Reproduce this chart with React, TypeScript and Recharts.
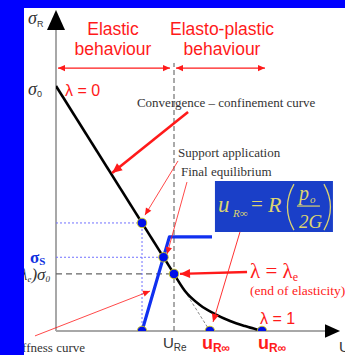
import {
  ComposedChart,
  Line,
  Scatter,
  XAxis,
  YAxis,
  ReferenceLine,
  ReferenceDot,
  ReferenceArea,
} from "recharts"

// u in units of U_Re, s = sigma_R / sigma_0
const elasticU = [0, 1]
const elasticS = [1, 0.233]
const plasticU = [1, 1.093, 1.22, 1.347, 1.475, 1.602, 1.746]
const plasticS = [0.233, 0.163, 0.106, 0.069, 0.041, 0.02, 0]
const stiffU = [0.729, 0.961, 1.322]
const stiffS = [0, 0.384, 0.384]
const pointU = [0.729, 0.911, 1, 0.729, 1.304, 1.746]
const pointS = [0.441, 0.301, 0.233, 0, 0, 0]

const phaseLabels = ["Elastic", "behaviour", "Elasto-plastic", "behaviour"]
const notes = [
  "Convergence – confinement curve",
  "Support application",
  "Final equilibrium",
  "Stiffness curve",
  "(end of elasticity)",
]

const toRows = (us: number[], ss: number[]) => us.map((u, i) => ({ u, s: ss[i] }))

const elastic = toRows(elasticU, elasticS)
const plastic = toRows(plasticU, plasticS)
const stiffness = toRows(stiffU, stiffS)
const points = toRows(pointU, pointS)

const RED = "#ff1a1a"
const SANS = "Liberation Sans, Arial, sans-serif"
const SERIF = "Liberation Serif, Times New Roman, serif"
const KHAKI = "#dcd470"

function arrow(color: string, width: number, head: number, both = false) {
  return (p: any) => {
    const { x1, y1, x2, y2 } = p
    const a = Math.atan2(y2 - y1, x2 - x1)
    const tip = (x: number, y: number, ang: number) => {
      const hx = x - head * Math.cos(ang)
      const hy = y - head * Math.sin(ang)
      const w = head * 0.45
      return `${x},${y} ${hx + w * Math.sin(ang)},${hy - w * Math.cos(ang)} ${hx - w * Math.sin(ang)},${hy + w * Math.cos(ang)}`
    }
    return (
      <g>
        <line x1={x1} y1={y1} x2={x2} y2={y2} stroke={color} strokeWidth={width} />
        <polygon points={tip(x2, y2, a)} fill={color} />
        {both && <polygon points={tip(x1, y1, a + Math.PI)} fill={color} />}
      </g>
    )
  }
}

function dashed(color: string, width: number, dash: string) {
  return (p: any) => (
    <line x1={p.x1} y1={p.y1} x2={p.x2} y2={p.y2} stroke={color} strokeWidth={width} strokeDasharray={dash} />
  )
}

function txt(render: (x: number, y: number) => any) {
  return (p: any) => <g>{render(p.cx, p.cy)}</g>
}

const dotShape = (p: any) => (
  <circle cx={p.cx} cy={p.cy} r={4.8} fill="#0010e8" stroke="#e8e000" strokeWidth={0.8} />
)

export default function App() {
  return (
    <div style={{ position: "absolute", left: 0, top: 0, width: 345, height: 355, background: "#fff", overflow: "hidden" }}>
      <ComposedChart
        width={345}
        height={355}
        margin={{ top: 12.5, right: 17.6, bottom: 24, left: 56 }}
      >
        <XAxis type="number" dataKey="u" domain={[0, 2.3]} allowDataOverflow hide />
        <YAxis type="number" dataKey="s" domain={[0, 1.3]} allowDataOverflow hide />

        {/* formula box */}
        <ReferenceArea x1={1.347} x2={2.347} y1={0.404} y2={0.612} ifOverflow="visible" fill="#1a3fc8" fillOpacity={1} stroke="none" />

        {/* axes */}
        <ReferenceLine segment={[{ x: 0, y: 0 }, { x: 0, y: 1.23 }]} ifOverflow="visible" shape={dashed("#a8a8a8", 2, "0")} />
        <ReferenceLine segment={[{ x: 0, y: 1.229 }, { x: 0, y: 1.31 }]} ifOverflow="visible" shape={arrow("#000", 0.1, 20)} />
        <ReferenceLine segment={[{ x: 0, y: 0 }, { x: 2.3, y: 0 }]} ifOverflow="visible" shape={dashed("#a8a8a8", 2, "0")} />
        <ReferenceLine segment={[{ x: 2.28, y: 0 }, { x: 2.407, y: 0 }]} ifOverflow="visible" shape={arrow("#000", 0.1, 15)} />

        {/* guide lines */}
        <ReferenceLine segment={[{ x: 1, y: 0 }, { x: 1, y: 1.094 }]} ifOverflow="visible" shape={dashed("#555", 1, "5 3")} />
        <ReferenceLine segment={[{ x: 0, y: 0.233 }, { x: 1, y: 0.233 }]} ifOverflow="visible" shape={dashed("#666", 1.3, "6 4")} />
        <ReferenceLine segment={[{ x: 1, y: 0.233 }, { x: 1.304, y: 0 }]} ifOverflow="visible" shape={dashed("#888", 1, "3 2")} />
        <ReferenceLine segment={[{ x: 0, y: 0.441 }, { x: 0.729, y: 0.441 }]} ifOverflow="visible" shape={dashed("#7070ff", 1, "2 2")} />
        <ReferenceLine segment={[{ x: 0.729, y: 0 }, { x: 0.729, y: 0.441 }]} ifOverflow="visible" shape={dashed("#7070ff", 1, "2 2")} />
        <ReferenceLine segment={[{ x: 0, y: 0.301 }, { x: 0.911, y: 0.301 }]} ifOverflow="visible" shape={dashed("#7070ff", 1, "2 2")} />

        {/* phase double arrows */}
        <ReferenceLine segment={[{ x: 0.017, y: 1.073 }, { x: 0.966, y: 1.073 }]} ifOverflow="visible" shape={arrow(RED, 1.3, 7, true)} />
        <ReferenceLine segment={[{ x: 1.017, y: 1.073 }, { x: 1.771, y: 1.073 }]} ifOverflow="visible" shape={arrow(RED, 1.3, 7, true)} />

        <Line data={elastic} dataKey="s" type="linear" stroke="#000" strokeWidth={2.6} dot={false} isAnimationActive={false} />
        <Line data={plastic} dataKey="s" type="monotone" stroke="#000" strokeWidth={2.6} dot={false} isAnimationActive={false} />
        <Line data={stiffness} dataKey="s" type="linear" stroke="#1030f0" strokeWidth={3.2} strokeLinejoin="round" dot={false} isAnimationActive={false} />

        {/* annotation arrows */}
        <ReferenceLine segment={[{ x: 1.119, y: 0.894 }, { x: 0.475, y: 0.645 }]} ifOverflow="visible" shape={arrow(RED, 2.6, 10)} />
        <ReferenceLine segment={[{ x: 1.034, y: 0.694 }, { x: 0.754, y: 0.473 }]} ifOverflow="visible" shape={arrow(RED, 0.8, 7)} />
        <ReferenceLine segment={[{ x: 1.11, y: 0.608 }, { x: 0.941, y: 0.314 }]} ifOverflow="visible" shape={arrow(RED, 0.8, 7)} />
        <ReferenceLine segment={[{ x: 1.559, y: 0.404 }, { x: 1.331, y: 0.037 }]} ifOverflow="visible" shape={arrow(RED, 0.9, 8)} />
        <ReferenceLine segment={[{ x: 1.619, y: 0.241 }, { x: 1.051, y: 0.233 }]} ifOverflow="visible" shape={arrow(RED, 2.4, 10)} />
        <ReferenceLine segment={[{ x: -0.178, y: -0.02 }, { x: 0.797, y: 0.163 }]} ifOverflow="visible" shape={arrow(RED, 0.8, 7)} />

        <Scatter data={points} dataKey="s" shape={dotShape} isAnimationActive={false} />

        {/* texts */}
        <ReferenceDot x={0.483} y={1.208} r={0} ifOverflow="visible" shape={txt((x, y) => (
          <text x={x} y={y} textAnchor="middle" fill={RED} fontFamily={SANS} fontSize={17.5}>{phaseLabels[0]}</text>
        ))} />
        <ReferenceDot x={0.483} y={1.127} r={0} ifOverflow="visible" shape={txt((x, y) => (
          <text x={x} y={y} textAnchor="middle" fill={RED} fontFamily={SANS} fontSize={17.5}>{phaseLabels[1]}</text>
        ))} />
        <ReferenceDot x={1.407} y={1.208} r={0} ifOverflow="visible" shape={txt((x, y) => (
          <text x={x} y={y} textAnchor="middle" fill={RED} fontFamily={SANS} fontSize={17.5}>{phaseLabels[2]}</text>
        ))} />
        <ReferenceDot x={1.407} y={1.127} r={0} ifOverflow="visible" shape={txt((x, y) => (
          <text x={x} y={y} textAnchor="middle" fill={RED} fontFamily={SANS} fontSize={17.5}>{phaseLabels[3]}</text>
        ))} />

        <ReferenceDot x={-0.237} y={1.253} r={0} ifOverflow="visible" shape={txt((x, y) => (
          <text x={x} y={y} fill="#333" fontFamily={SERIF} fontStyle="italic" fontSize={18}>
            σ<tspan fontStyle="normal" fontFamily={SANS} fontSize={9} dy={3}>R</tspan>
          </text>
        ))} />
        <ReferenceDot x={-0.237} y={0.963} r={0} ifOverflow="visible" shape={txt((x, y) => (
          <text x={x} y={y} fill="#333" fontFamily={SERIF} fontStyle="italic" fontSize={18}>
            σ<tspan fontStyle="normal" fontFamily={SANS} fontSize={9} dy={2}>0</tspan>
          </text>
        ))} />
        <ReferenceDot x={0.076} y={0.958} r={0} ifOverflow="visible" shape={txt((x, y) => (
          <text x={x} y={y} fill={RED} fontFamily={SANS} fontSize={16}>λ = 0</text>
        ))} />
        <ReferenceDot x={0.686} y={0.914} r={0} ifOverflow="visible" shape={txt((x, y) => (
          <text x={x} y={y} fill="#333" fontFamily={SERIF} fontSize={13}>{notes[0]}</text>
        ))} />
        <ReferenceDot x={1.034} y={0.71} r={0} ifOverflow="visible" shape={txt((x, y) => (
          <text x={x} y={y} fill="#333" fontFamily={SERIF} fontSize={13}>{notes[1]}</text>
        ))} />
        <ReferenceDot x={1.059} y={0.633} r={0} ifOverflow="visible" shape={txt((x, y) => (
          <text x={x} y={y} fill="#333" fontFamily={SERIF} fontSize={13}>{notes[2]}</text>
        ))} />
        <ReferenceDot x={0.246} y={-0.086} r={0} ifOverflow="visible" shape={txt((x, y) => (
          <text x={x} y={y} textAnchor="end" fill="#333" fontFamily={SERIF} fontSize={13}>{notes[3]}</text>
        ))} />
        <ReferenceDot x={1.644} y={0.147} r={0} ifOverflow="visible" shape={txt((x, y) => (
          <text x={x} y={y} fill={RED} fontFamily={SERIF} fontSize={13.5}>{notes[4]}</text>
        ))} />
        <ReferenceDot x={1.644} y={0.216} r={0} ifOverflow="visible" shape={txt((x, y) => (
          <text x={x} y={y} fill={RED} fontFamily={SERIF} fontSize={21}>
            λ = λ<tspan fontSize={12} dy={3}>e</tspan>
          </text>
        ))} />
        <ReferenceDot x={1.729} y={0.029} r={0} ifOverflow="visible" shape={txt((x, y) => (
          <text x={x} y={y} fill={RED} fontFamily={SANS} fontSize={16}>λ = 1</text>
        ))} />
        <ReferenceDot x={-0.22} y={0.278} r={0} ifOverflow="visible" shape={txt((x, y) => (
          <text x={x} y={y} fill="#1030e0" fontFamily={SERIF} fontWeight="bold" fontSize={17}>
            σ<tspan fontSize={11} dy={2}>S</tspan>
          </text>
        ))} />
        <ReferenceDot x={-0.051} y={0.208} r={0} ifOverflow="visible" shape={txt((x, y) => (
          <text x={x} y={y} textAnchor="end" fill="#333" fontFamily={SERIF} fontStyle="italic" fontSize={17}>
            (1-λ<tspan fontSize={9} dy={2}>e</tspan><tspan dy={-2}>)σ</tspan><tspan fontSize={9} dy={2}>0</tspan>
          </text>
        ))} />
        <ReferenceDot x={0.907} y={-0.069} r={0} ifOverflow="visible" shape={txt((x, y) => (
          <text x={x} y={y} fill="#333" fontFamily={SANS} fontSize={15}>
            U<tspan fontSize={10} dy={3}>Re</tspan>
          </text>
        ))} />
        <ReferenceDot x={1.237} y={-0.073} r={0} ifOverflow="visible" shape={txt((x, y) => (
          <text x={x} y={y} fill={RED} fontFamily={SANS} fontWeight="bold" fontSize={18}>
            u<tspan fontSize={12} dy={3}>R∞</tspan>
          </text>
        ))} />
        <ReferenceDot x={1.712} y={-0.073} r={0} ifOverflow="visible" shape={txt((x, y) => (
          <text x={x} y={y} fill={RED} fontFamily={SANS} fontWeight="bold" fontSize={18}>
            u<tspan fontSize={12} dy={3}>R∞</tspan>
          </text>
        ))} />
        <ReferenceDot x={2.398} y={-0.086} r={0} ifOverflow="visible" shape={txt((x, y) => (
          <text x={x} y={y} fill="#333" fontFamily={SANS} fontSize={15}>U</text>
        ))} />

        {/* formula: u_R∞ = R (p_o / 2G) */}
        <ReferenceDot x={1.347} y={0.612} r={0} ifOverflow="visible" shape={txt((x, y) => (
          <g fill={KHAKI} fontFamily={SERIF} fontStyle="italic">
            <text x={x + 3} y={y + 31} fontSize={23}>u</text>
            <text x={x + 18} y={y + 36} fontSize={11}>R∞</text>
            <text x={x + 36} y={y + 30} fontSize={21} fontStyle="normal">=</text>
            <text x={x + 53} y={y + 31} fontSize={22}>R</text>
            <path d={`M${x + 79},${y + 3} Q${x + 66},${y + 26} ${x + 79},${y + 49}`} fill="none" stroke={KHAKI} strokeWidth={1.3} />
            <text x={x + 84} y={y + 19} fontSize={20}>p</text>
            <text x={x + 95} y={y + 22} fontSize={11}>o</text>
            <line x1={x + 82} y1={y + 25} x2={x + 105} y2={y + 25} stroke={KHAKI} strokeWidth={1.2} />
            <text x={x + 84} y={y + 47} fontSize={19}>2G</text>
            <path d={`M${x + 109},${y + 3} Q${x + 122},${y + 26} ${x + 109},${y + 49}`} fill="none" stroke={KHAKI} strokeWidth={1.3} />
          </g>
        ))} />
      </ComposedChart>
      <div style={{ position: "absolute", left: 0, top: 0, width: 345, height: 8, background: "#0000ff" }} />
      <div style={{ position: "absolute", left: 0, top: 0, width: 24, height: 355, background: "#0000ff" }} />
    </div>
  )
}
